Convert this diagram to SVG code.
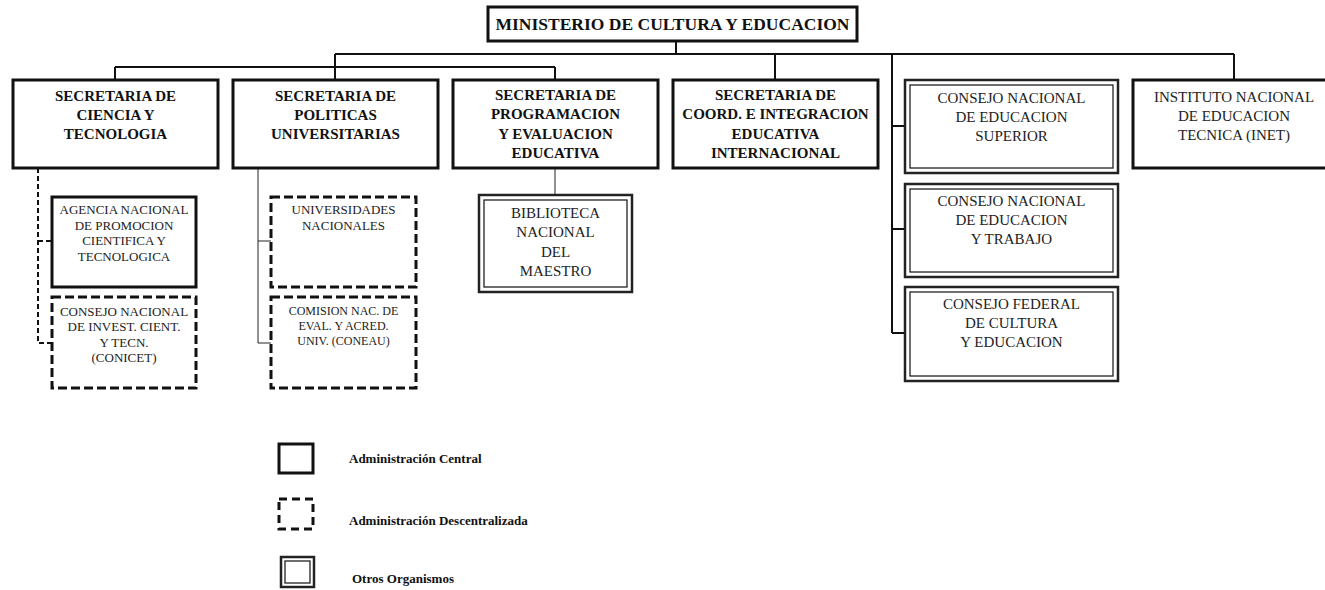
<svg xmlns="http://www.w3.org/2000/svg" width="1325" height="590" viewBox="0 0 1325 590" font-family="'Liberation Serif', 'Times New Roman', serif">
<style>
.bg{fill:#fff}
.box{fill:#fff;stroke:#111;stroke-width:3}
.dbox{fill:#fff;stroke:#111;stroke-width:3;stroke-dasharray:9 4}
.dout{fill:#fff;stroke:#222;stroke-width:2.5}
.din{fill:none;stroke:#222;stroke-width:1.3}
.ln{fill:none;stroke:#111;stroke-width:2}
.thin{fill:none;stroke:#222;stroke-width:1}
.dln{fill:none;stroke:#111;stroke-width:2;stroke-dasharray:5 3}
text{font-family:'Liberation Serif','Times New Roman',serif;fill:#222;text-anchor:middle}
.b{font-weight:bold;font-size:15px;fill:#111}
.r{font-size:15px}
.s{font-size:13px}
.xs{font-size:12px}
.t{font-weight:bold;font-size:17.5px;fill:#111}
.lg{font-weight:bold;font-size:13px;text-anchor:start;fill:#111}
</style>
<rect class="bg" x="0" y="0" width="1325" height="590"/>

<g id="connectors">
<path class="ln" d="M676 41V54M335 54H1234M115 67H555"/>
<path class="ln" d="M115 67V80M335 54V80M555 67V80M775 54V80M1234 54V80"/>
<path class="ln" d="M892 54V333M892 126H905M892 229H905M892 333H905"/>
<path class="thin" d="M555 168V195"/>
<path class="dln" d="M38 168V343H52M38 241H52"/>
<path class="thin" d="M258 168V343H271M258 241H271"/>
</g>

<g id="ministerio">
<rect class="box" x="488" y="7" width="369" height="34"/>
<text class="t" x="672.5" y="30">MINISTERIO DE CULTURA Y EDUCACION</text>
</g>

<g id="sec-ciencia">
<rect class="box" x="13" y="80" width="205" height="88"/>
<text class="b" x="115.5" y="101">SECRETARIA DE</text>
<text class="b" x="115.5" y="120">CIENCIA Y</text>
<text class="b" x="115.5" y="139">TECNOLOGIA</text>
</g>

<g id="sec-politicas">
<rect class="box" x="233" y="80" width="205" height="88"/>
<text class="b" x="335.5" y="101">SECRETARIA DE</text>
<text class="b" x="335.5" y="120">POLITICAS</text>
<text class="b" x="335.5" y="139">UNIVERSITARIAS</text>
</g>

<g id="sec-programacion">
<rect class="box" x="453" y="80" width="205" height="88"/>
<text class="b" x="555.5" y="100">SECRETARIA DE</text>
<text class="b" x="555.5" y="119">PROGRAMACION</text>
<text class="b" x="555.5" y="139">Y EVALUACION</text>
<text class="b" x="555.5" y="158">EDUCATIVA</text>
</g>

<g id="sec-coord">
<rect class="box" x="673" y="80" width="205" height="88"/>
<text class="b" x="775.5" y="100">SECRETARIA DE</text>
<text class="b" x="775.5" y="119">COORD. E INTEGRACION</text>
<text class="b" x="775.5" y="139">EDUCATIVA</text>
<text class="b" x="775.5" y="158">INTERNACIONAL</text>
</g>

<g id="cons-superior">
<rect class="dout" x="905" y="80" width="213" height="93"/>
<rect class="din" x="910" y="85" width="203" height="83"/>
<text class="r" x="1011.5" y="103">CONSEJO NACIONAL</text>
<text class="r" x="1011.5" y="122">DE EDUCACION</text>
<text class="r" x="1011.5" y="141">SUPERIOR</text>
</g>

<g id="cons-trabajo">
<rect class="dout" x="905" y="184" width="213" height="93"/>
<rect class="din" x="910" y="189" width="203" height="83"/>
<text class="r" x="1011.5" y="206">CONSEJO NACIONAL</text>
<text class="r" x="1011.5" y="225">DE EDUCACION</text>
<text class="r" x="1011.5" y="244">Y TRABAJO</text>
</g>

<g id="cons-federal">
<rect class="dout" x="905" y="287" width="213" height="94"/>
<rect class="din" x="910" y="292" width="203" height="84"/>
<text class="r" x="1011.5" y="309">CONSEJO FEDERAL</text>
<text class="r" x="1011.5" y="328">DE CULTURA</text>
<text class="r" x="1011.5" y="347">Y EDUCACION</text>
</g>

<g id="inet">
<rect class="box" x="1133" y="80" width="202" height="88"/>
<text class="r" x="1234" y="102">INSTITUTO NACIONAL</text>
<text class="r" x="1234" y="121">DE EDUCACION</text>
<text class="r" x="1234" y="140">TECNICA (INET)</text>
</g>

<g id="biblioteca">
<rect class="dout" x="479" y="195" width="153" height="97"/>
<rect class="din" x="484" y="200" width="143" height="87"/>
<text class="r" x="555.5" y="218">BIBLIOTECA</text>
<text class="r" x="555.5" y="237">NACIONAL</text>
<text class="r" x="555.5" y="257">DEL</text>
<text class="r" x="555.5" y="276">MAESTRO</text>
</g>

<g id="agencia">
<rect class="box" x="52" y="197" width="144" height="90"/>
<text class="s" x="124" y="214">AGENCIA NACIONAL</text>
<text class="s" x="124" y="230">DE PROMOCION</text>
<text class="s" x="124" y="245">CIENTIFICA Y</text>
<text class="s" x="124" y="261">TECNOLOGICA</text>
</g>

<g id="conicet">
<rect class="dbox" x="52" y="297" width="144" height="91"/>
<text class="s" x="124" y="316">CONSEJO NACIONAL</text>
<text class="s" x="124" y="331">DE INVEST. CIENT.</text>
<text class="s" x="124" y="347">Y TECN.</text>
<text class="s" x="124" y="362">(CONICET)</text>
</g>

<g id="universidades">
<rect class="dbox" x="271" y="197" width="145" height="90"/>
<text class="s" x="343.5" y="214">UNIVERSIDADES</text>
<text class="s" x="343.5" y="230">NACIONALES</text>
</g>

<g id="coneau">
<rect class="dbox" x="271" y="297" width="145" height="91"/>
<text class="xs" x="343.5" y="315">COMISION NAC. DE</text>
<text class="xs" x="343.5" y="330">EVAL. Y ACRED.</text>
<text class="xs" x="343.5" y="345">UNIV. (CONEAU)</text>
</g>

<g id="legend">
<rect class="box" x="279" y="444" width="34" height="29"/>
<text class="lg" x="349" y="463">Administración Central</text>
<rect class="dbox" x="279" y="499" width="34" height="30" style="stroke-dasharray:8 5"/>
<text class="lg" x="349" y="525">Administración Descentralizada</text>
<rect class="dout" x="281" y="557" width="33" height="30"/>
<rect class="din" x="285" y="561" width="25" height="22"/>
<text class="lg" x="352" y="583">Otros Organismos</text>
</g>
</svg>
